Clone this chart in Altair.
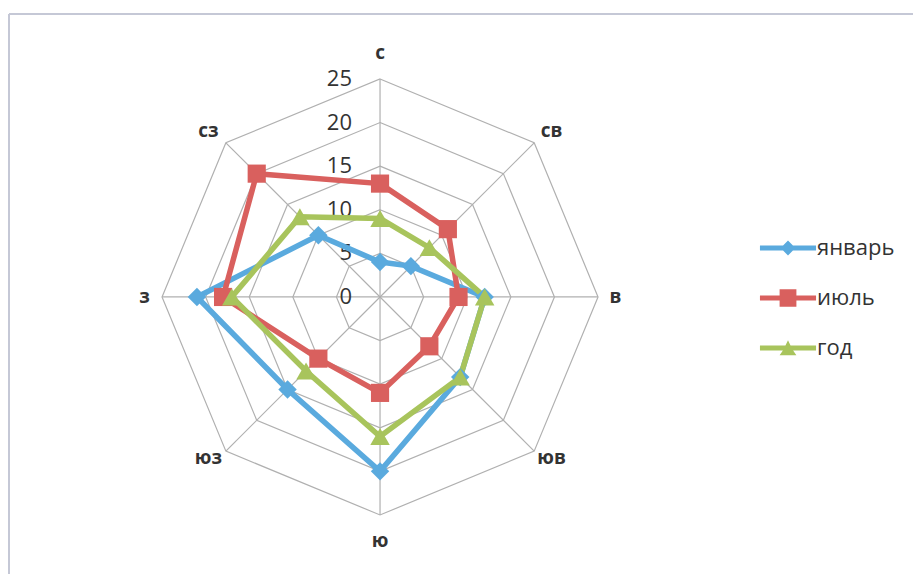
import altair as alt
import pandas as pd

# ---- data ----
directions = ["с", "св", "в", "юв", "ю", "юз", "з", "сз"]
series_names = ["январь", "июль", "год"]
january = [4, 5, 12, 13, 20, 15, 21, 10]
july = [13, 11, 9, 8, 11, 10, 18, 20]
year = [9, 8, 12, 13, 16, 12, 17, 13]
ring_levels = [5, 10, 15, 20, 25]
tick_labels = [0, 5, 10, 15, 20, 25]
axis_max = 25

colors = ["#5aaade", "#d9605e", "#a8c45c"]
marker_shapes = ["diamond", "square", "triangle-up"]
legend_paths = [
    "M-1.87,-0.17 L-0.33,-0.17 L0,-0.5 L0.33,-0.17 L1.87,-0.17 L1.87,0.17 L0.33,0.17 L0,0.5 L-0.33,0.17 L-1.87,0.17 Z",
    "M-1.87,-0.17 L-0.56,-0.17 L-0.56,-0.58 L0.56,-0.58 L0.56,-0.17 L1.87,-0.17 L1.87,0.17 L0.56,0.17 L0.56,0.58 L-0.56,0.58 L-0.56,0.17 L-1.87,0.17 Z",
    "M-1.87,-0.17 L-0.17,-0.17 L0,-0.52 L0.17,-0.17 L1.87,-0.17 L1.87,0.17 L0.34,0.17 L0.56,0.48 L-0.56,0.48 L-0.34,0.17 L-1.87,0.17 Z",
]

values_by_series = [january, july, year]
rows = []
for s, vals in zip(series_names, values_by_series):
    for i, (d, v) in enumerate(zip(directions, vals)):
        rows.append({"series": s, "dir": d, "idx": i, "value": v})
df = pd.DataFrame(rows)

ring_rows = [{"level": lv, "idx": i} for lv in ring_levels for i in range(len(directions))]
ring_df = pd.DataFrame(ring_rows)
spoke_df = pd.DataFrame({"idx": list(range(len(directions))), "dir": directions})
tick_df = pd.DataFrame({"tick": tick_labels})
legend_df = pd.DataFrame({"series": series_names})

n = len(directions)
ANG = f"datum.idx * 2 * PI / {n}"

W, H = 904, 560
xscale = alt.Scale(domain=[-42.55, 61.12], nice=False, zero=False)
yscale = alt.Scale(domain=[-31.77, 32.45], nice=False, zero=False)
X = lambda f: alt.X(f, type="quantitative", scale=xscale, axis=None)
Y = lambda f: alt.Y(f, type="quantitative", scale=yscale, axis=None)

color_scale = alt.Scale(domain=series_names, range=colors)
grid_color = "#b0b0b0"
font = "Open Sans"

legend_cfg = alt.Legend(
    title=None, orient="none", legendX=764, legendY=219,
    symbolSize=900, symbolStrokeWidth=0, rowPadding=24,
    labelFont=font, labelFontSize=22, labelColor="#333333",
    labelOffset=14, padding=0,
)
legend_layer = alt.Chart(legend_df).transform_calculate(
    px="0", py="0"
).mark_point(filled=True, opacity=1, size=0, strokeWidth=0).encode(
    x=X("px"), y=Y("py"),
    color=alt.Color("series:N", scale=color_scale, legend=legend_cfg),
    shape=alt.Shape("series:N", scale=alt.Scale(domain=series_names, range=legend_paths), legend=legend_cfg),
)

rings = alt.Chart(ring_df).transform_calculate(
    px=f"datum.level * sin({ANG})", py=f"datum.level * cos({ANG})"
).mark_line(interpolate="linear-closed", color=grid_color, strokeWidth=1.2).encode(
    x=X("px"), y=Y("py"), detail="level:N", order="idx:Q"
)

spokes = alt.Chart(spoke_df).transform_calculate(
    ox="0", oy="0",
    px=f"{axis_max} * sin({ANG})", py=f"{axis_max} * cos({ANG})"
).mark_rule(color=grid_color, strokeWidth=1.2).encode(
    x=X("ox"), y=Y("oy"), x2="px:Q", y2="py:Q"
)

ticks = alt.Chart(tick_df).transform_calculate(
    px="0", py="datum.tick"
).mark_text(align="right", baseline="middle", dx=-28, fontSize=22, font=font, color="#333333").encode(
    x=X("px"), y=Y("py"), text="tick:N"
)

dir_labels = alt.Chart(spoke_df).transform_calculate(
    sa=f"sin({ANG})", ca=f"cos({ANG})"
).transform_calculate(
    px=f"{axis_max} * datum.sa + (datum.sa > 0.1 ? 2.0 : (datum.sa < -0.1 ? -2.0 : 0))",
    py=f"{axis_max} * datum.ca + 3.0 * pow(datum.ca, 3) + (abs(datum.sa) > 0.1 && abs(datum.ca) > 0.1 ? 0.3 : 0)"
).mark_text(align="center", baseline="middle", fontSize=19, font=font, fontWeight="bold", color="#333333").encode(
    x=X("px"), y=Y("py"), text="dir:N"
)

base = alt.Chart(df).transform_calculate(
    px=f"datum.value * sin({ANG})", py=f"datum.value * cos({ANG})"
)

lines = base.mark_line(interpolate="linear-closed", strokeWidth=5.5).encode(
    x=X("px"), y=Y("py"), order="idx:Q",
    color=alt.Color("series:N", scale=color_scale, legend=None),
)

marker_layers = []
for s, shp, sz in zip(series_names, marker_shapes, [340, 330, 380]):
    marker_layers.append(
        base.transform_filter(alt.datum.series == s).mark_point(
            shape=shp, filled=True, size=sz, opacity=1
        ).encode(
            x=X("px"), y=Y("py"),
            color=alt.Color("series:N", scale=color_scale, legend=None),
        )
    )

frame_top = alt.Chart(tick_df).mark_rule(color="#c5c8d6", strokeWidth=2).encode(
    x=alt.value(0), x2=alt.value(W), y=alt.value(0)
)
frame_left = alt.Chart(tick_df).mark_rule(color="#c5c8d6", strokeWidth=2).encode(
    x=alt.value(0), y=alt.value(0), y2=alt.value(H)
)

chart = alt.layer(
    legend_layer, frame_top, frame_left, rings, spokes, ticks, dir_labels, lines, *marker_layers
).properties(
    width=W, height=H,
    padding={"left": 9, "top": 14, "right": 0, "bottom": 0},
    autosize=alt.AutoSizeParams(type="none"),
    background="white",
).configure_view(stroke=None)

chart.save("out.html", embed_options={"renderer": "svg", "actions": False})
